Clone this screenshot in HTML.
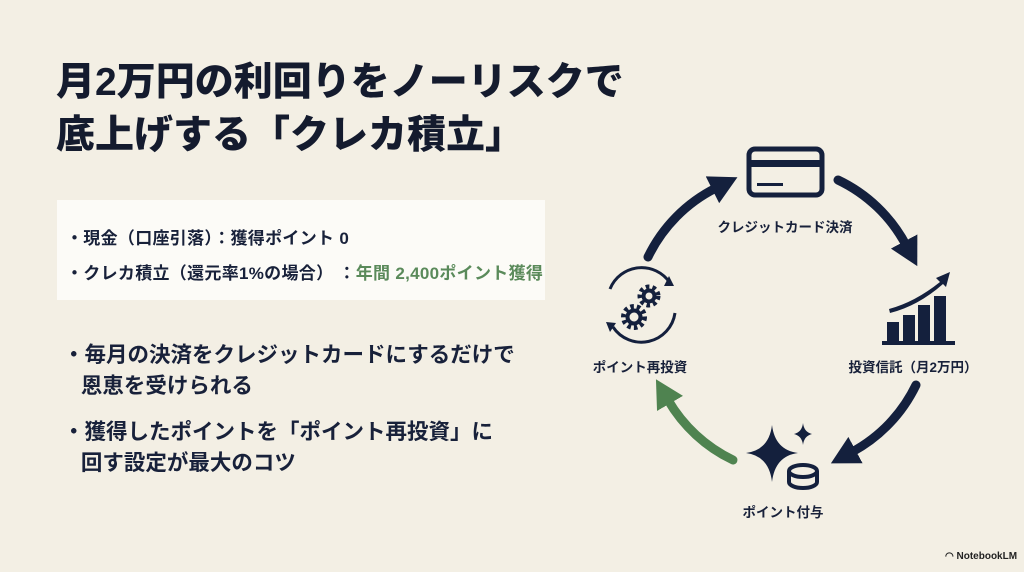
<!DOCTYPE html>
<html><head><meta charset="utf-8">
<style>
*{margin:0;padding:0;box-sizing:border-box}
body{width:1024px;height:572px;background:#f3efe4;position:relative;overflow:hidden;font-family:"Liberation Sans","Noto Sans CJK JP",sans-serif;color:#18213a}
.t{position:absolute;white-space:nowrap}
h1{position:absolute;left:56px;top:56px;font-size:39px;line-height:53px;font-weight:900;color:#141b2e}
.box{position:absolute;left:57px;top:200px;width:488px;height:100px;background:#fcfbf7}
.bx{font-size:17px;font-weight:700;left:66px;letter-spacing:0.3px}
.b{font-size:21.5px;font-weight:700;left:63px;line-height:31px}
.lb{font-size:13.5px;font-weight:700;transform:translateX(-50%)}
</style></head><body>
<h1>月2万円の利回りをノーリスクで<br>底上げする「クレカ積立」</h1>
<div class="box"></div>
<div class="t bx" style="top:224px">・現金（口座引落）：獲得ポイント 0</div>
<div class="t bx" style="top:259px">・クレカ積立（還元率1%の場合）&nbsp;：<span style="color:#5a8a5a">年間 2,400ポイント獲得</span></div>
<div class="t b" style="top:340px">・毎月の決済をクレジットカードにするだけで<br>&nbsp;&nbsp;&nbsp;恩恵を受けられる</div>
<div class="t b" style="top:417px">・獲得したポイントを「ポイント再投資」に<br>&nbsp;&nbsp;&nbsp;回す設定が最大のコツ</div>

<svg style="position:absolute;left:0;top:0" width="1024" height="572">
<defs>
<marker id="h" markerUnits="userSpaceOnUse" markerWidth="30" markerHeight="30" refX="4" refY="15" orient="auto"><path d="M0,0 L28,15 L0,30 z" fill="#14203d"/></marker>
<marker id="g" markerUnits="userSpaceOnUse" markerWidth="30" markerHeight="30" refX="4" refY="15" orient="auto"><path d="M0,0 L28,15 L0,30 z" fill="#4f8350"/></marker>
</defs>
<g fill="none" stroke-width="9" stroke-linecap="round">
<path d="M648,257 A150,150 0 0 1 716,188" stroke="#14203d" marker-end="url(#h)"/>
<path d="M838,180 A150,150 0 0 1 906,245" stroke="#14203d" marker-end="url(#h)"/>
<path d="M916,385 A150,150 0 0 1 852,452" stroke="#14203d" marker-end="url(#h)"/>
<path d="M733,460 A150,150 0 0 1 668,400" stroke="#4f8350" marker-end="url(#g)"/>
</g>
<rect x="749" y="149" width="73" height="46" rx="6" fill="none" stroke="#14203d" stroke-width="5"/>
<rect x="749" y="160" width="73" height="7" fill="#14203d"/>
<rect x="757" y="183" width="26" height="3" fill="#14203d"/>
<g fill="#14203d">
<rect x="887" y="322" width="12" height="19"/>
<rect x="903" y="315" width="12" height="26"/>
<rect x="918" y="305" width="12" height="36"/>
<rect x="934" y="296" width="12" height="45"/>
<rect x="882" y="341" width="73" height="4"/>
<path d="M889,309 Q915,302 940,282 L936,278 L950,272 L946,287 L943,284 Q918,306 890,313 z"/>
</g>
<g fill="#14203d">
<path d="M772,425 Q775,450 798,453 Q775,456 772,482 Q769,456 746,453 Q769,450 772,425 z"/>
<path d="M803,423 Q804,432 812,434 Q804,436 803,445 Q802,436 794,434 Q802,432 803,423 z"/>
</g>
<g fill="none" stroke="#14203d" stroke-width="4">
<ellipse cx="803" cy="471" rx="14" ry="6"/>
<path d="M789,471 v11 a14,6 0 0 0 28,0 v-11"/>
</g>
<g fill="none" stroke="#14203d" stroke-width="3">
<path d="M610,289 A34,34 0 0 1 670,283"/>
<path d="M675,313 A34,34 0 0 1 613,327"/>
</g>
<path d="M669,276 l5,10 l-10,0 z" fill="#14203d"/>
<path d="M610,332 l-4,-10 l10,1 z" fill="#14203d"/>
<g stroke="#14203d" stroke-width="5" stroke-dasharray="3.5 3" fill="none">
<circle cx="649" cy="296" r="9"/>
<circle cx="634" cy="317" r="10.5"/>
</g>
<circle cx="649" cy="296" r="5.5" fill="none" stroke="#14203d" stroke-width="4"/>
<circle cx="634" cy="317" r="6.5" fill="none" stroke="#14203d" stroke-width="4"/>
</svg>
<div class="t lb" style="left:785px;top:216px">クレジットカード決済</div>
<div class="t lb" style="left:913px;top:356px">投資信託（月2万円）</div>
<div class="t lb" style="left:640px;top:356px">ポイント再投資</div>
<div class="t lb" style="left:783px;top:501px">ポイント付与</div>
<div class="t" style="left:945px;top:551px;font-size:10px;font-weight:700;color:#222">◠ NotebookLM</div>
</body></html>
